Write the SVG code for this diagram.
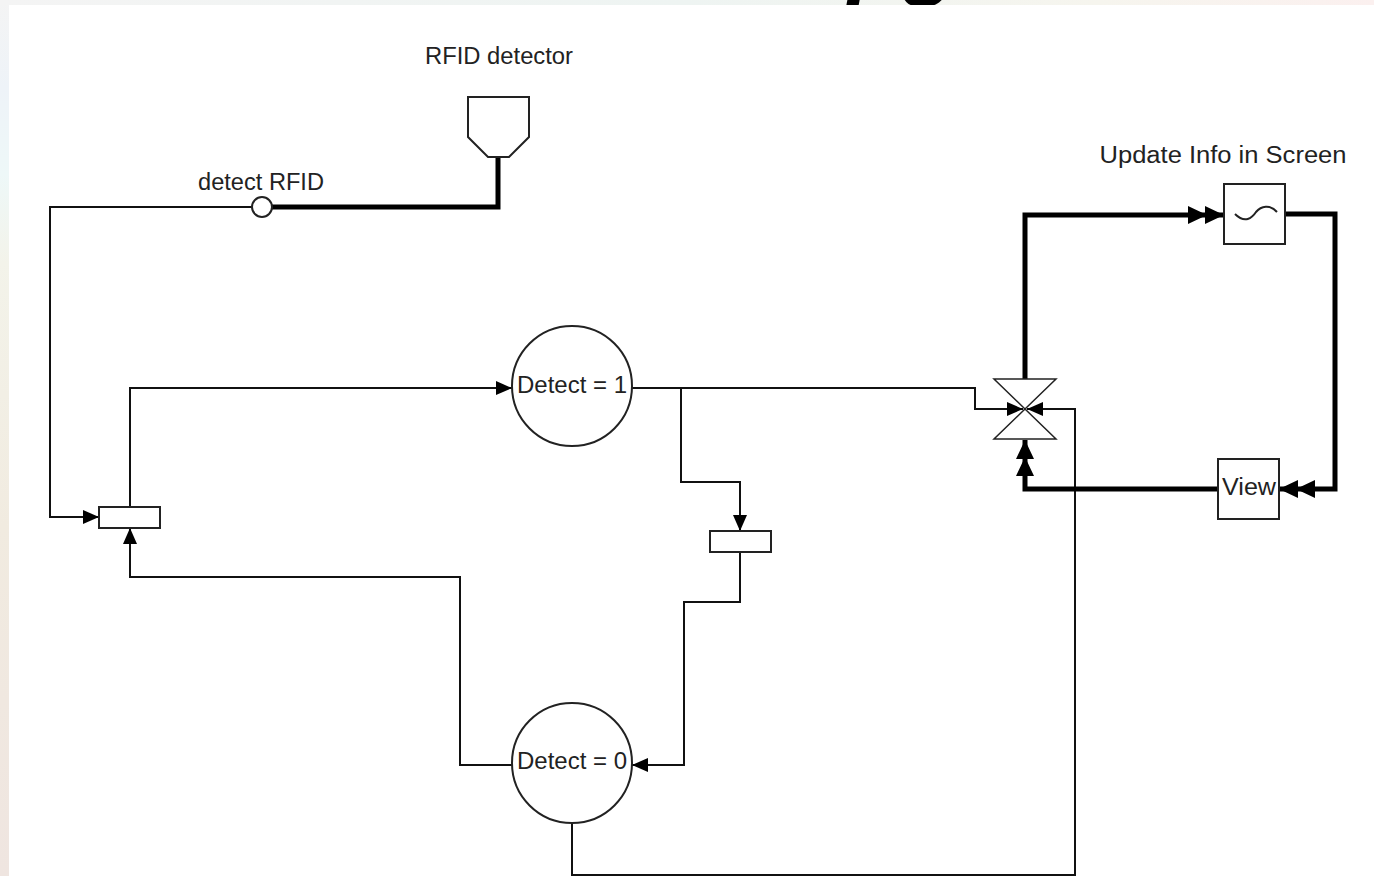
<svg xmlns="http://www.w3.org/2000/svg" width="1374" height="876" viewBox="0 0 1374 876">
<style>
.t{font-family:"Liberation Sans",Arial,sans-serif;font-size:23px;fill:#222}
.thin{fill:none;stroke:#111;stroke-width:2}
.thick{fill:none;stroke:#000;stroke-width:5}
.shape{fill:#fff;stroke:#222;stroke-width:2}
</style>
<defs>
<linearGradient id="lg" x1="0" y1="0" x2="0" y2="1">
<stop offset="0" stop-color="#f4f4f4"/>
<stop offset="0.1" stop-color="#eef3f8"/>
<stop offset="0.2" stop-color="#eef8f8"/>
<stop offset="0.3" stop-color="#f3f3ea"/>
<stop offset="0.6" stop-color="#f1ebe0"/>
<stop offset="1" stop-color="#efe5e0"/>
</linearGradient>
<linearGradient id="tg" x1="0" y1="0" x2="1" y2="0">
<stop offset="0" stop-color="#f4f4f4"/>
<stop offset="0.5" stop-color="#eef4f2"/>
<stop offset="0.8" stop-color="#f6f5ee"/>
<stop offset="1" stop-color="#fbf0ef"/>
</linearGradient>
<clipPath id="topclip"><rect x="0" y="0" width="1374" height="5"/></clipPath>
<marker id="arr" markerUnits="userSpaceOnUse" markerWidth="17" markerHeight="14" refX="16" refY="7" orient="auto">
<path d="M0,0 L16,7 L0,14 z" fill="#000"/>
</marker>
<marker id="arr2" markerUnits="userSpaceOnUse" markerWidth="38" markerHeight="20" refX="36" refY="10" orient="auto">
<path d="M0,1 L19,10 L0,19 z M17,1 L36,10 L17,19 z" fill="#000"/>
</marker>
</defs>

<g id="background">
<rect x="0" y="0" width="1374" height="876" fill="url(#lg)"/>
<rect x="0" y="0" width="1374" height="5" fill="url(#tg)"/>
<text x="848" y="-12" clip-path="url(#topclip)" style="font-family:'Liberation Sans',Arial,sans-serif;font-size:90px;font-weight:bold;font-style:italic;fill:#000">pg</text>
<rect x="9" y="5" width="1365" height="871" fill="#fff"/>
</g>

<g id="connectors">
<!-- detect RFID line to left transition -->
<path class="thin" d="M252,207 H50 V517 H99" marker-end="url(#arr)"/>
<!-- left transition to Detect=1 -->
<path class="thin" d="M130,507 V388 H512" marker-end="url(#arr)"/>
<!-- Detect=0 to left transition -->
<path class="thin" d="M512,765 H460 V577 H130 V528" marker-end="url(#arr)"/>
<!-- Detect=1 to middle transition -->
<path class="thin" d="M681,388 V482 H740 V531" marker-end="url(#arr)"/>
<!-- Detect=1 to valve -->
<path class="thin" d="M632,388 H975 V409 H1023" marker-end="url(#arr)"/>
<!-- middle transition to Detect=0 -->
<path class="thin" d="M740,552 V602 H684 V765 H632" marker-end="url(#arr)"/>
<!-- Detect=0 to valve -->
<path class="thin" d="M572,823 V875 H1075 V409 H1027" marker-end="url(#arr)"/>
<!-- thick: detector to detect RFID -->
<path class="thick" d="M498,157 V207 H272"/>
<!-- thick: valve to update -->
<path class="thick" d="M1025,379 V215 H1224" marker-end="url(#arr2)"/>
<!-- thick: update to view -->
<path class="thick" d="M1285,214 H1335 V489 H1279" marker-end="url(#arr2)"/>
<!-- thick: view to valve -->
<path class="thick" d="M1218,489 H1025 V440" marker-end="url(#arr2)"/>
</g>

<g id="rfid-detector">
<polygon class="shape" points="468,97 529,97 529,137 509,157 488,157 468,137"/>
<text class="t" x="499" y="64" text-anchor="middle" textLength="148" lengthAdjust="spacingAndGlyphs">RFID detector</text>
</g>

<g id="detect-rfid">
<circle class="shape" cx="262" cy="207" r="10"/>
<text class="t" x="261" y="190" text-anchor="middle" textLength="126" lengthAdjust="spacingAndGlyphs">detect RFID</text>
</g>

<g id="detect1">
<circle class="shape" cx="572" cy="386" r="60"/>
<text class="t" x="572" y="393" text-anchor="middle" textLength="110" lengthAdjust="spacingAndGlyphs">Detect = 1</text>
</g>

<g id="detect0">
<circle class="shape" cx="572" cy="763" r="60"/>
<text class="t" x="572" y="769" text-anchor="middle" textLength="110" lengthAdjust="spacingAndGlyphs">Detect = 0</text>
</g>

<g id="transition-left">
<rect class="shape" x="99" y="507" width="61" height="21"/>
</g>

<g id="transition-mid">
<rect class="shape" x="710" y="531" width="61" height="21"/>
</g>

<g id="valve">
<polygon class="shape" style="stroke-width:1.5" points="994,379 1056,379 1025,409"/>
<polygon class="shape" style="stroke-width:1.5" points="994,439 1056,439 1025,409"/>
</g>

<g id="update-info">
<rect class="shape" x="1224" y="184" width="61" height="60"/>
<path d="M1235,214 C1245,224 1252,218 1256,212 C1261,206 1270,204 1277,212" fill="none" stroke="#222" stroke-width="2"/>
<text class="t" x="1223" y="163" text-anchor="middle" textLength="247" lengthAdjust="spacingAndGlyphs">Update Info in Screen</text>
</g>

<g id="view">
<rect class="shape" x="1218" y="459" width="61" height="60"/>
<text class="t" x="1249" y="495" text-anchor="middle" textLength="54" lengthAdjust="spacingAndGlyphs">View</text>
</g>
</svg>
